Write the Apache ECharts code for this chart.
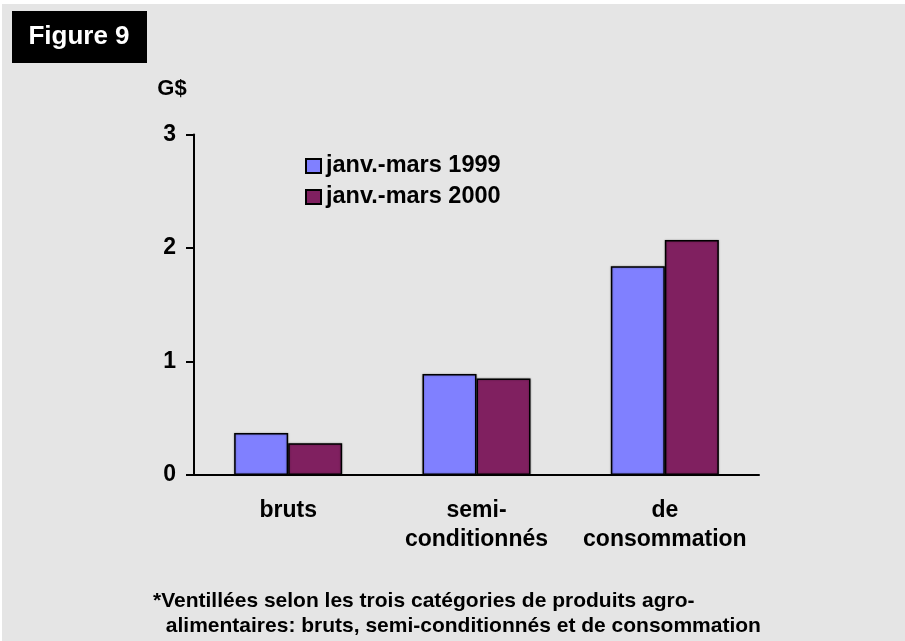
<!DOCTYPE html>
<html>
<head>
<meta charset="utf-8">
<script src="https://cdn.jsdelivr.net/npm/echarts@6/dist/echarts.min.js"></script>
<style>
html,body{margin:0;padding:0;background:#fff;}
#c{width:905px;height:641px;}
</style>
</head>
<body>
<div id="c"></div>
<script>
var categories = ['bruts', 'semi-\nconditionnés', 'de\nconsommation'];
var seriesNames = ['janv.-mars 1999', 'janv.-mars 2000'];
var values1999 = [0.37, 0.89, 1.84];
var values2000 = [0.28, 0.85, 2.07];
var yTicks = [0, 1, 2, 3];
var figureTitle = 'Figure 9';
var unitLabel = 'G$';
var footnoteLines = ['*Ventillées selon les trois catégories de produits agro-', ' alimentaires: bruts, semi-conditionnés et de consommation'];

var FONT = '"Liberation Sans", Arial, sans-serif';
var chart = echarts.init(document.getElementById('c'), null, {renderer: 'canvas'});
var barStyle = function (color) {
  return {
    color: color,
    borderColor: '#000',
    borderWidth: 1.5,
    shadowColor: 'rgba(0,0,0,0.35)',
    shadowBlur: 2
  };
};
chart.setOption({
  backgroundColor: '#ffffff',
  animation: false,
  graphic: [
    {type: 'rect', z: -10, shape: {x: 2, y: 4, width: 903, height: 637}, style: {fill: '#e5e5e5'}},
    {type: 'rect', shape: {x: 12, y: 11, width: 135, height: 52}, style: {fill: '#000'}},
    {type: 'text', x: 79, y: 37, style: {text: figureTitle, fill: '#fff', font: 'bold 26px ' + FONT, textAlign: 'center', textVerticalAlign: 'middle'}},
    {type: 'text', x: 172, y: 89, style: {text: unitLabel, fill: '#000', font: 'bold 22px ' + FONT, textAlign: 'center', textVerticalAlign: 'middle'}},
    {type: 'text', x: 153, y: 601, style: {text: footnoteLines[0], fill: '#000', font: 'bold 21px ' + FONT, textAlign: 'left', textVerticalAlign: 'middle'}},
    {type: 'text', x: 160, y: 626, style: {text: footnoteLines[1], fill: '#000', font: 'bold 21px ' + FONT, textAlign: 'left', textVerticalAlign: 'middle'}}
  ],
  legend: {
    orient: 'vertical',
    left: 305,
    top: 154,
    padding: 0,
    itemWidth: 15,
    itemHeight: 14,
    itemGap: 7,
    itemTextGap: 5,
    icon: 'rect',
    textStyle: {fontFamily: FONT, fontWeight: 'bold', fontSize: 23.5, color: '#000'},
    data: seriesNames
  },
  grid: {left: 194, right: 146, top: 134.5, bottom: 641 - 475, containLabel: false},
  xAxis: {
    type: 'category',
    data: categories,
    axisLine: {lineStyle: {color: '#000', width: 2}},
    axisTick: {show: false},
    axisLabel: {fontFamily: FONT, fontWeight: 'bold', fontSize: 23, color: '#000', lineHeight: 29, margin: 21, interval: 0}
  },
  yAxis: {
    type: 'value',
    min: yTicks[0],
    max: yTicks[yTicks.length - 1],
    interval: 1,
    splitLine: {show: false},
    axisLine: {show: true, lineStyle: {color: '#000', width: 2}},
    axisTick: {show: true, length: 8, lineStyle: {color: '#000', width: 2}},
    axisLabel: {fontFamily: FONT, fontWeight: 'bold', fontSize: 23, color: '#000', margin: 18}
  },
  series: [
    {name: seriesNames[0], type: 'bar', data: values1999, barWidth: 54, barGap: '0%', itemStyle: barStyle('#8080ff')},
    {name: seriesNames[1], type: 'bar', data: values2000, barWidth: 54, barGap: '0%', itemStyle: barStyle('#802060')}
  ]
});
</script>
</body>
</html>
